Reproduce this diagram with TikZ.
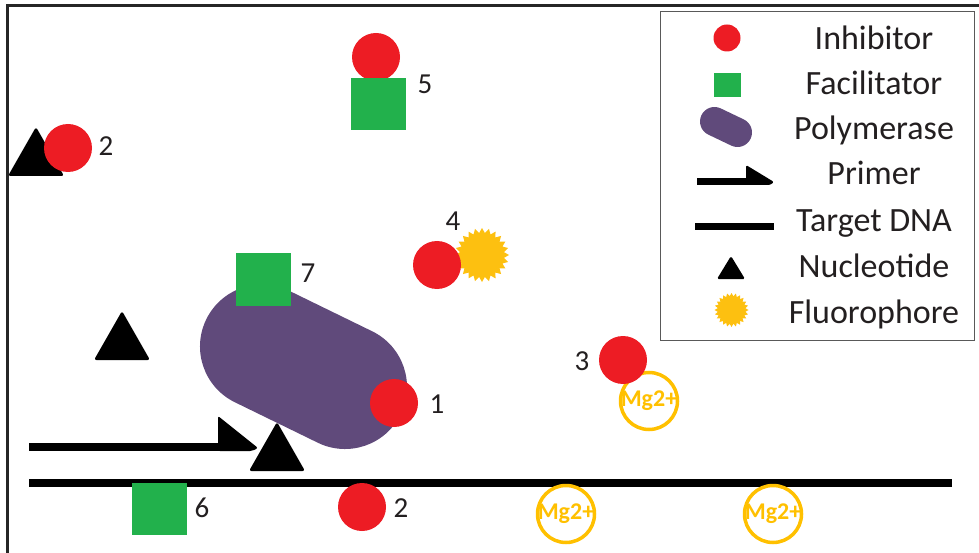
\documentclass[tikz,border=0pt]{standalone}
\usepackage{fontspec}
\setmainfont{Carlito}
\usetikzlibrary{shapes.geometric}

\definecolor{inhred}{HTML}{ED1C24}
\definecolor{facgreen}{HTML}{22B14C}
\definecolor{polypurple}{HTML}{604A7B}
\definecolor{fluoyellow}{HTML}{FDC010}
\definecolor{mgorange}{HTML}{FFC000}
\definecolor{txtgray}{HTML}{231F20}

\newcommand{\mgtxt}{\makebox[0pt]{Mg2+}}

\begin{document}
\begin{tikzpicture}[x=1pt,y=-1pt,
  inhib/.style={circle,fill=inhred,inner sep=0pt,minimum size=48pt},
  facil/.style={rectangle,fill=facgreen,inner sep=0pt,minimum width=55pt,minimum height=52pt},
  fluo/.style={star,star points=24,star point ratio=1.22,fill=fluoyellow,inner sep=0pt,minimum size=54pt},
  mgion/.style={circle,draw=mgorange,line width=3.5pt,inner sep=0pt,minimum size=57pt,text=mgorange,font=\fontsize{24}{24}\selectfont\bfseries},
  num/.style={text=txtgray,font=\fontsize{29}{29}\selectfont,anchor=base},
  legtext/.style={text=txtgray,font=\fontsize{34}{34}\selectfont,anchor=base},
  dna/.style={line width=8pt},
  polym/.style={polypurple,line cap=round},
  nucleo/.pic={\fill[rounded corners=2.5pt] (-28,24) -- (0,-25) -- (28,24) -- cycle;},
  smallnucleo/.pic={\fill[rounded corners=1.5pt] (-14,11) -- (0,-12) -- (14,11) -- cycle;}
]
\useasboundingbox (0,0) rectangle (979,553);
\draw[line width=2.5pt,black!85] (7.5,553) -- (7.5,5.5) -- (979,5.5);

% 聚合酶与引物
\draw[polym,line width=124pt] (262,346.5) -- (345,387);
\draw[dna] (29,483) -- (952,483);
\draw[dna] (29,447) -- (250,447);
\fill[rounded corners=2pt] (218,443) -- (218,416) -- (258,448) -- (252,451) -- (218,451) -- cycle;
\pic at (277,447) {nucleo};
\pic at (122,336) {nucleo};
\pic at (36,152) {nucleo};

\node[facil] (f7) at (263.5,279.5) {};
\node[num] (l7) at (308,283) {7};
\node[inhib] (i1) at (394,403) {};
\node[num] (l1) at (437,413) {1};

\node[inhib] (i5) at (376,57) {};
\node[facil] (f5) at (378.5,104) {};
\node[num] (l5) at (425,94) {5};

\node[inhib] (i2a) at (68,148) {};
\node[num] (l2a) at (106,156) {2};

\node[fluo] (s4) at (482,255) {};
\node[inhib] (i4) at (437,265) {};
\node[num] (l4) at (453,231) {4};

\node[mgion] (m3) at (649,401) {\mgtxt};
\node[inhib] (i3) at (623,360) {};
\node[num] (l3) at (582,370) {3};

\node[facil] (f6) at (159,509) {};
\node[num] (l6) at (202,517) {6};
\node[inhib] (i2b) at (362,507) {};
\node[num] (l2b) at (401,517) {2};
\node[mgion] (ma) at (566,514) {\mgtxt};
\node[mgion] (mb) at (773,514) {\mgtxt};

% 图例
\draw[gray!70!black,line width=1pt] (660.5,12) rectangle (974,340);
\node[inhib,minimum size=27pt] (ki) at (727,38) {};
\node[facil,minimum width=27pt,minimum height=24pt] (kf) at (727.5,85) {};
\draw[polym,line width=29pt] (714.5,121.5) -- (737.5,132.5);
\draw[line width=7pt] (697,181.5) -- (768,181.5);
\fill[rounded corners=1.5pt] (746,178) -- (746,165) -- (774,182) -- (770,185) -- (746,185) -- cycle;
\draw[line width=7pt] (695,227) -- (774,227);
\pic at (731,268) {smallnucleo};
\node[fluo,minimum size=34pt] (ks) at (731.5,310) {};

\node[legtext] (t1) at (874,50) {Inhibitor};
\node[legtext] (t2) at (874,95) {Facilitator};
\node[legtext] (t3) at (874,140) {Polymerase};
\node[legtext] (t4) at (874,185) {Primer};
\node[legtext] (t5) at (874,232) {Target DNA};
\node[legtext] (t6) at (874,277) {Nucleotide};
\node[legtext] (t7) at (874,323) {Fluorophore};
\end{tikzpicture}
\end{document}
